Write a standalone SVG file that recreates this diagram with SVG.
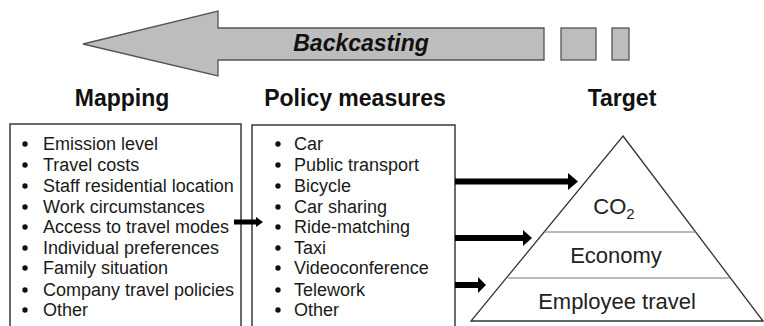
<svg xmlns="http://www.w3.org/2000/svg" width="764" height="326" viewBox="0 0 764 326">
<style>
  .bg{fill:#ffffff}
  .head{font-family:"Liberation Sans",Arial,sans-serif;font-weight:bold;font-size:23px;fill:#111;text-anchor:middle}
  .item{font-family:"Liberation Sans",Arial,sans-serif;font-size:18px;fill:#1a1a1a}
  .bul{fill:#111}
  .box{fill:#ffffff;stroke:#3a3a3a;stroke-width:1.5}
  .grey{fill:#bdbdbd;stroke:#555;stroke-width:1.3}
  .tri{fill:#ffffff;stroke:#333;stroke-width:1.3}
  .sep{stroke:#777;stroke-width:1.2}
  .lvl{font-family:"Liberation Sans",Arial,sans-serif;font-size:22px;fill:#222;text-anchor:middle}
  .conn{fill:#000}
</style>
<rect class="bg" x="0" y="0" width="764" height="326"/>

<g id="backcasting">
  <polygon class="grey" points="83,44 218,11 218,28 544,28 544,60 218,60 218,76"/>
  <rect class="grey" x="561" y="28" width="35" height="32"/>
  <rect class="grey" x="612" y="28" width="17" height="32"/>
  <text x="361" y="51" font-family="Liberation Sans, Arial, sans-serif" font-weight="bold" font-style="italic" font-size="23" fill="#111" text-anchor="middle">Backcasting</text>
</g>

<g id="mapping">
  <text class="head" x="122" y="106">Mapping</text>
  <rect class="box" x="10" y="124" width="231" height="210"/>
  <g class="bul">
    <circle cx="25" cy="144" r="2.7"/><circle cx="25" cy="165" r="2.7"/><circle cx="25" cy="186" r="2.7"/>
    <circle cx="25" cy="207" r="2.7"/><circle cx="25" cy="227" r="2.7"/><circle cx="25" cy="248" r="2.7"/>
    <circle cx="25" cy="268" r="2.7"/><circle cx="25" cy="290" r="2.7"/><circle cx="25" cy="310" r="2.7"/>
  </g>
  <text class="item" x="43" y="150">Emission level</text>
  <text class="item" x="43" y="171">Travel costs</text>
  <text class="item" x="43" y="192">Staff residential location</text>
  <text class="item" x="43" y="213">Work circumstances</text>
  <text class="item" x="43" y="233">Access to travel modes</text>
  <text class="item" x="43" y="254">Individual preferences</text>
  <text class="item" x="43" y="274">Family situation</text>
  <text class="item" x="43" y="296">Company travel policies</text>
  <text class="item" x="43" y="316">Other</text>
</g>

<g id="policy">
  <text class="head" x="355" y="106">Policy measures</text>
  <rect class="box" x="252" y="125" width="203" height="210"/>
  <g class="bul">
    <circle cx="278" cy="144" r="2.7"/><circle cx="278" cy="165" r="2.7"/><circle cx="278" cy="186" r="2.7"/>
    <circle cx="278" cy="207" r="2.7"/><circle cx="278" cy="227" r="2.7"/><circle cx="278" cy="248" r="2.7"/>
    <circle cx="278" cy="268" r="2.7"/><circle cx="278" cy="290" r="2.7"/><circle cx="278" cy="310" r="2.7"/>
  </g>
  <text class="item" x="294" y="150">Car</text>
  <text class="item" x="294" y="171">Public transport</text>
  <text class="item" x="294" y="192">Bicycle</text>
  <text class="item" x="294" y="213">Car sharing</text>
  <text class="item" x="294" y="233">Ride-matching</text>
  <text class="item" x="294" y="254">Taxi</text>
  <text class="item" x="294" y="274">Videoconference</text>
  <text class="item" x="294" y="296">Telework</text>
  <text class="item" x="294" y="316">Other</text>
</g>

<g id="target">
  <text class="head" x="622" y="106">Target</text>
  <polygon class="tri" points="623,136 763,321 471,321"/>
  <line class="sep" x1="544" y1="232" x2="696" y2="232"/>
  <line class="sep" x1="508" y1="278" x2="730" y2="278"/>
  <text class="lvl" x="614" y="214" font-size="23">CO<tspan font-size="15" dy="5">2</tspan></text>
  <text class="lvl" x="616" y="263">Economy</text>
  <text class="lvl" x="617" y="309">Employee travel</text>
</g>

<g id="connectors">
  <polygon class="conn" points="234,219.5 256,219.5 256,217 263,222 256,227 256,224.5 234,224.5"/>
  <polygon class="conn" points="455,178.5 568,178.5 568,173 578,181.5 568,190 568,184.5 455,184.5"/>
  <polygon class="conn" points="455,235 523,235 523,230 532,238 523,246 523,241 455,241"/>
  <polygon class="conn" points="455,282 478,282 478,277 486,285 478,293 478,288 455,288"/>
</g>
</svg>
